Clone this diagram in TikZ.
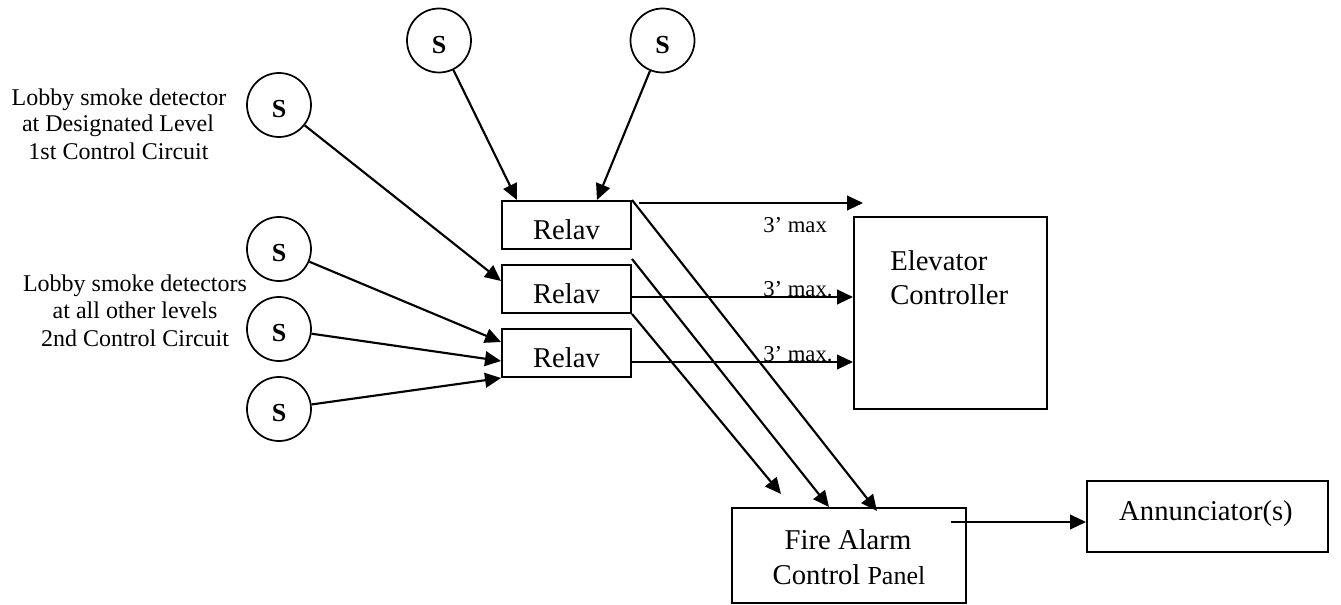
\documentclass[tikz,border=0pt]{standalone}
\usepackage{fontspec}
\setmainfont{Liberation Serif}
\usetikzlibrary{arrows.meta,calc}
\begin{document}
\begin{tikzpicture}[x=0.75pt,y=-0.75pt,
  ln/.style={line width=1.6pt},
  arr/.style={ln,-{Triangle[length=12pt,width=11pt]}},
  det/.style={circle,draw,line width=1.3pt,minimum size=48pt,inner sep=0pt,
    font=\fontsize{19.5}{19.5}\selectfont\bfseries,text height=19pt,text depth=0pt},
  box/.style={rectangle,draw,line width=1.5pt,inner sep=0pt},
  main/.style={inner sep=0pt,font=\fontsize{21.5}{25}\selectfont},
  note/.style={inner sep=0pt,font=\fontsize{18}{20}\selectfont},
  mx/.style={inner sep=0pt,font=\fontsize{17}{20}\selectfont},
]
\useasboundingbox (0,0) rectangle (1341,605);

% detectors
\node[det] (s1) at (439,40.5) {S};
\node[det] (s2) at (662.5,40.5) {S};
\node[det] (sa) at (279,105) {S};
\node[det] (sb) at (279,249) {S};
\node[det] (sc) at (279,329) {S};
\node[det] (sd) at (279,409) {S};

% left labels
\node[note,anchor=base] (la1) at (119,106) {Lobby smoke detector};
\node[note,anchor=base] (la2) at (118,132) {at Designated Level};
\node[note,anchor=base] (la3) at (118.5,160) {1st Control Circuit};
\node[note,anchor=base] (lb1) at (135,292) {Lobby smoke detectors};
\node[note,anchor=base] (lb2) at (135,319) {at all other levels};
\node[note,anchor=base] (lb3) at (135,347) {2nd Control Circuit};

% relays
\node[box,minimum width=96.75pt,minimum height=36pt] (r1) at (566.5,225) {};
\node[box,minimum width=96.75pt,minimum height=36pt] (r2) at (566.5,289) {};
\node[box,minimum width=96.75pt,minimum height=36pt] (r3) at (566.5,353) {};
\node[main,anchor=base] (r1t) at (566.5,240) {Relav};
\node[main,anchor=base] (r2t) at (566.5,304) {Relav};
\node[main,anchor=base] (r3t) at (566.5,368) {Relav};

% elevator controller
\node[box,minimum width=144.75pt,minimum height=144pt] (ec) at (950.5,313) {};
\node[main,anchor=base west] (ect1) at (890,271) {Elevator};
\node[main,anchor=base west] (ect2) at (890,305) {Controller};

% fire alarm control panel
\node[box,minimum width=175.5pt,minimum height=71.25pt] (fap) at (849,555.5) {};
\node[main,anchor=base] (fapt1) at (848,549) {Fire Alarm};
\node[main,anchor=base] (fapt2) at (849,584) {Control {\fontsize{19.5}{20}\selectfont Panel}};

% annunciator
\node[box,minimum width=180.75pt,minimum height=53.25pt] (ann) at (1207.5,516.5) {};
\node[main,anchor=base] (annt) at (1206,520) {Annunciator(s)};

% distance labels
\node[mx,anchor=base west] (m1) at (763,233) {3’ max};
\node[mx,anchor=base west] (m2) at (763,297) {3’ max.};
\node[mx,anchor=base west] (m3) at (763,362) {3’ max.};

% detector inputs
\draw[arr] (s1) -- ($(r1.north west)+(16,0)$);
\draw[arr] (s2) -- ($(r1.north west)+(96,0)$);
\draw[arr] (sa) -- ($(r2.west)+(0,-8)$);
\draw[arr] (sb) -- ($(r3.north west)+(0,14)$);
\draw[arr] (sc) -- ($(r3.west)+(0,8)$);
\draw[arr] (sd) -- (r3.south west);

% outputs to elevator controller
\coordinate (o1s) at (639,203);
\coordinate (o1e) at (863,203);
\draw[arr] (o1s) -- (o1e);
\draw[arr] (r2.east |- 0,297) -- (ec.west |- 0,297);
\draw[arr] (r3.east |- 0,362) -- (ec.west |- 0,362);

% outputs to fire alarm panel
\coordinate (f1) at (781,494);
\coordinate (f2) at (829,507);
\coordinate (f3) at (877,511);
\draw[arr] (r2.south east) -- (f1);
\draw[arr] ($(r2.north east)+(0,-5)$) -- (f2);
\draw[arr] (r1.north east) -- (f3);

% annunciator
\coordinate (a0) at (951,522);
\draw[arr] (a0) -- (ann.west |- 0,522);
\end{tikzpicture}
\end{document}
